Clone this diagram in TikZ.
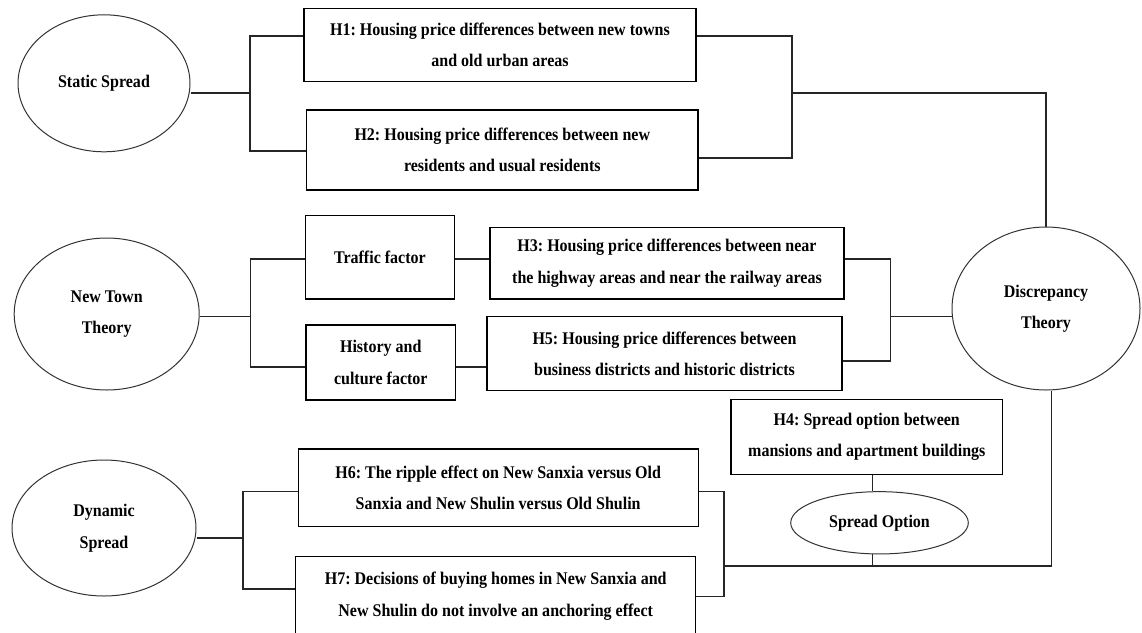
\documentclass[tikz,border=0pt]{standalone}
\usepackage{fontspec}
\setmainfont{Liberation Serif}[FakeStretch=0.9]
\usetikzlibrary{shapes.geometric}
\frenchspacing
\begin{document}
\begin{tikzpicture}[x=1pt,y=-1pt,
  every node/.style={font=\fontsize{17.8}{31.5}\selectfont\bfseries, align=center, inner sep=0pt},
  hbox/.style={draw, line width=1.1pt, rectangle},
  oval/.style={draw, ellipse, line width=1.0pt, draw=black!80},
  conn/.style={line width=1.1pt, draw=black!85}]
\useasboundingbox (0,0) rectangle (1142,632);

% ellipses
\node[oval, minimum width=172pt, minimum height=137pt] (ss) at (104,83.3) {Static Spread};
\node[oval, minimum width=185pt, minimum height=152pt] (nt) at (106.7,314) {New Town\\Theory};
\node[oval, minimum width=184pt, minimum height=136pt] (ds) at (104,528) {Dynamic\\Spread};
\node[oval, minimum width=188pt, minimum height=163pt] (disc) at (1046,308.5) {Discrepancy\\Theory};
\node[oval, minimum width=177.6pt, minimum height=62.3pt] (so) at (879.5,522.8) {Spread Option};

% boxes
\node[hbox, minimum width=392pt, minimum height=73.4pt] (h1) at (500,45) {H1: Housing price differences between new towns\\and old urban areas};
\node[hbox, minimum width=391.3pt, minimum height=80pt] (h2) at (502.3,150) {H2: Housing price differences between new\\residents and usual residents};
\node[hbox, minimum width=148.3pt, minimum height=83.3pt] (tf) at (379.9,257.3) {Traffic factor};
\node[hbox, minimum width=149.7pt, minimum height=75pt] (hc) at (380.8,362.5) {History and\\culture factor};
\node[hbox, minimum width=354pt, minimum height=71.3pt] (h3) at (667,263.3) {H3: Housing price differences between near\\the highway areas and near the railway areas};
\node[hbox, minimum width=355pt, minimum height=74pt] (h5) at (664.5,353.7) {H5: Housing price differences between\\business districts and historic districts};
\node[hbox, minimum width=271.7pt, minimum height=75pt] (h4) at (866.8,436.8) {H4: Spread option between\\mansions and apartment buildings};
\node[hbox, minimum width=400.3pt, minimum height=77.7pt] (h6) at (498.2,487.8) {H6: The ripple effect on New Sanxia versus Old\\Sanxia and New Shulin versus Old Shulin};
\node[hbox, minimum width=400pt, minimum height=79.3pt] (h7) at (495.7,596.3) {H7: Decisions of buying homes in New Sanxia and\\New Shulin do not involve an anchoring effect};

% junction coordinates
\coordinate (sj) at (250,93);
\coordinate (rj) at (792,93);
\coordinate (nj) at (250.7,316.7);
\coordinate (mj) at (890.7,316.7);
\coordinate (dj) at (243,538);
\coordinate (ej) at (724,566);
\coordinate (bj) at (872.7,566);

% static spread
\draw[conn] (ss.east |- sj) -- (sj);
\draw[conn] ([yshift=9pt]h1.west) -| (sj) |- ([yshift=-1pt]h2.west);
\draw[conn] ([yshift=9pt]h1.east) -| (rj) |- ([yshift=-8pt]h2.east);
\draw[conn] (rj) -| (disc.north);

% new town
\draw[conn] (nt.east |- nj) -- (nj);
\draw[conn] ([yshift=-1.7pt]tf.west) -| (nj) |- ([yshift=-4.5pt]hc.west);
\draw[conn] ([yshift=-1.7pt]tf.east) -- ([yshift=4.3pt]h3.west);
\draw[conn] ([yshift=-4.5pt]hc.east) -- ([yshift=-13.3pt]h5.west);
\draw[conn] ([yshift=4.3pt]h3.east) -| (mj) |- ([yshift=-7.3pt]h5.east);
\draw[conn] (mj) -- (mj -| disc.west);

% spread option
\draw[conn] ([xshift=5.9pt]h4.south) -- ([xshift=5.9pt]h4.south |- so.north);
\draw[conn] (bj |- so.south) -- (bj);

% dynamic spread
\draw[conn] (ds.east |- dj) -- (dj);
\draw[conn] ([yshift=-3.9pt]h6.west) -| (dj) |- ([yshift=7.3pt]h7.west);
\draw[conn] ([yshift=-3.9pt]h6.east) -| (ej) |- ([yshift=-0.4pt]h7.east);
\draw[conn] (ej) -| ([xshift=5.7pt]disc.south);
\end{tikzpicture}
\end{document}
